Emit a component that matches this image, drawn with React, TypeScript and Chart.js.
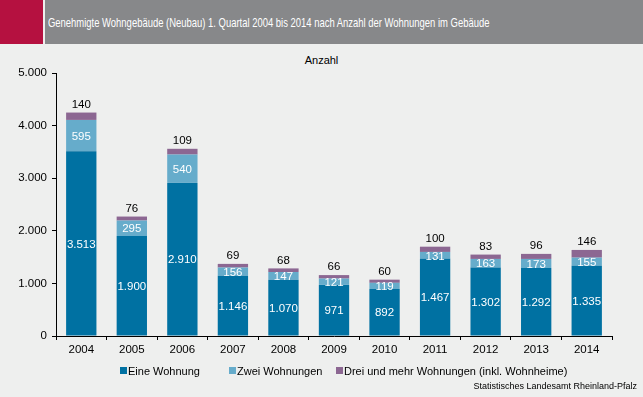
import React, { useEffect, useRef } from "react";
import { Chart, registerables } from "chart.js";

Chart.register(...registerables);

const years = ["2004", "2005", "2006", "2007", "2008", "2009", "2010", "2011", "2012", "2013", "2014"];
const eineWohnung = [3513, 1900, 2910, 1146, 1070, 971, 892, 1467, 1302, 1292, 1335];
const zweiWohnungen = [595, 295, 540, 156, 147, 121, 119, 131, 163, 173, 155];
const dreiUndMehr = [140, 76, 109, 69, 68, 66, 60, 100, 83, 96, 146];
const seriesNames = ["Eine Wohnung", "Zwei Wohnungen", "Drei und mehr Wohnungen (inkl. Wohnheime)"];
const seriesColors = ["#0071A2", "#66ACCB", "#8C6792"];
const yTicks = [0, 1000, 2000, 3000, 4000, 5000];

const FONT = "'Liberation Sans', Arial, sans-serif";
const fmt = (v: number) => v.toString().replace(/\B(?=(\d{3})+(?!\d))/g, ".");

const labelPlugin = {
  id: "valueLabels",
  afterDatasetsDraw(chart: any) {
    const ctx = chart.ctx;
    ctx.save();
    ctx.font = `11.5px ${FONT}`;
    ctx.textAlign = "center";
    ctx.textBaseline = "middle";
    chart.data.datasets.forEach((ds: any, di: number) => {
      const meta = chart.getDatasetMeta(di);
      meta.data.forEach((bar: any, i: number) => {
        const v = ds.data[i];
        if (di === 2) {
          ctx.fillStyle = "#000000";
          ctx.fillText(fmt(v), bar.x, bar.y - 8);
        } else {
          ctx.fillStyle = "#FFFFFF";
          ctx.fillText(fmt(v), bar.x, (bar.y + bar.base) / 2 + 1);
        }
      });
    });
    ctx.restore();
  },
};

export default function App() {
  const ref = useRef<HTMLCanvasElement>(null);
  useEffect(() => {
    if (!ref.current) return;
    const chart = new Chart(ref.current, {
      type: "bar",
      data: {
        labels: years,
        datasets: [eineWohnung, zweiWohnungen, dreiUndMehr].map((d, i) => ({
          label: seriesNames[i],
          data: d,
          backgroundColor: seriesColors[i],
          borderWidth: 0,
          barPercentage: 0.6,
          categoryPercentage: 1,
        })),
      },
      options: {
        animation: false,
        responsive: false,
        maintainAspectRatio: false,
        layout: { padding: { left: 0, right: 31, top: 28, bottom: 0 } },
        plugins: { legend: { display: false }, tooltip: { enabled: false }, title: { display: false } },
        scales: {
          x: {
            stacked: true,
            grid: { display: true, drawOnChartArea: false, drawTicks: true, tickLength: 4, color: "#000", offset: true },
            border: { display: true, color: "#000", width: 1 },
            ticks: { color: "#000", font: { family: FONT, size: 11.5 }, padding: 3, maxRotation: 0 },
            afterFit: (s: any) => { s.height = 61; },
          },
          y: {
            stacked: true,
            min: 0,
            max: 5000,
            afterBuildTicks: (s: any) => { s.ticks = yTicks.map((v) => ({ value: v })); },
            grid: { display: true, drawOnChartArea: false, drawTicks: true, tickLength: 4, color: "#000" },
            border: { display: true, color: "#000", width: 1 },
            ticks: { color: "#000", font: { family: FONT, size: 11.5 }, padding: 5, callback: (v: any) => fmt(Number(v)) },
            afterFit: (s: any) => { s.width = 56; },
          },
        },
      },
      plugins: [labelPlugin],
    });
    return () => chart.destroy();
  }, []);

  return (
    <div style={{ position: "fixed", left: 0, top: 0, width: 643, height: 397, background: "#EEEFEE", fontFamily: FONT, overflow: "hidden" }}>
      <div style={{ position: "absolute", left: 0, top: 0, width: 43, height: 44, background: "#B51140" }} />
      <div style={{ position: "absolute", left: 45, top: 0, width: 598, height: 44, background: "#87888A" }} />
      <div style={{ position: "absolute", left: 48, top: 14, color: "#FFFFFF", fontSize: 13.5, whiteSpace: "nowrap", lineHeight: "18px", transform: "scaleX(0.70)", transformOrigin: "left center" }}>
        Genehmigte Wohngebäude (Neubau) 1. Quartal 2004 bis 2014 nach Anzahl der Wohnungen im Gebäude
      </div>
      <div style={{ position: "absolute", left: 0, width: 643, top: 53, textAlign: "center", fontSize: 11, color: "#000", lineHeight: "14px" }}>
        Anzahl
      </div>
      <canvas ref={ref} width={643} height={352} style={{ position: "absolute", left: 0, top: 45, width: 643, height: 352 }} />
      <div style={{ position: "absolute", left: 120, top: 364, fontSize: 11, color: "#000", lineHeight: "14px", whiteSpace: "nowrap" }}>
        {seriesNames.map((n, i) => (
          <span key={n} style={{ position: "absolute", left: [0, 109, 216][i], top: 0, whiteSpace: "nowrap" }}>
            <span style={{ display: "inline-block", width: 7, height: 7, background: seriesColors[i], marginRight: 1, verticalAlign: "1px" }} />
            {n}
          </span>
        ))}
      </div>
      <div style={{ position: "absolute", right: 6, top: 380, fontSize: 9, color: "#000", lineHeight: "12px", whiteSpace: "nowrap" }}>
        Statistisches Landesamt Rheinland-Pfalz
      </div>
    </div>
  );
}
